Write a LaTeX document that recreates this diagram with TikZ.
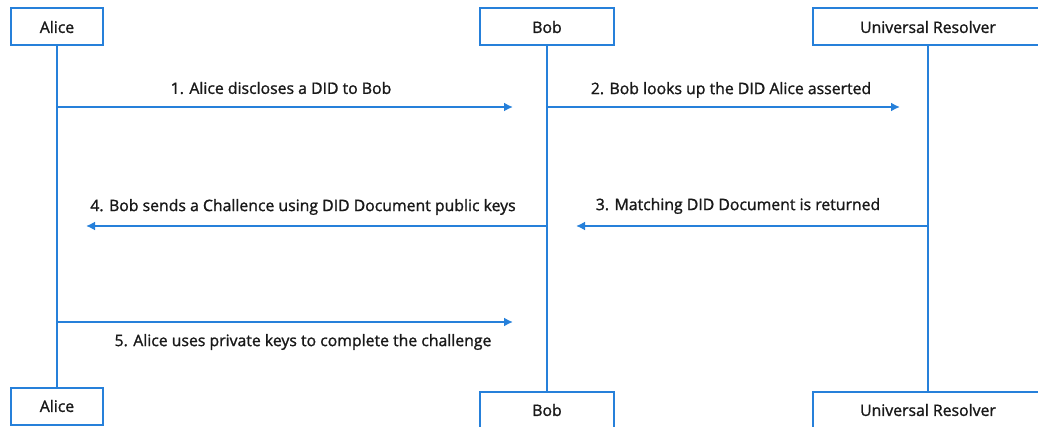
\documentclass[tikz,border=0pt]{standalone}
\usepackage{fontspec}
\setmainfont{Open Sans}
\newfontfamily\semib{Open Sans}[FakeBold=1.3]
\usetikzlibrary{arrows.meta}
\definecolor{lineblue}{RGB}{38,128,218}
\definecolor{txt}{RGB}{25,25,25}
\tikzset{
  actor/.style={draw=lineblue, line width=2pt, fill=white, text=txt, font=\semib\fontsize{15.8}{18}\selectfont, minimum height=37pt, inner sep=0pt},
  life/.style={draw=lineblue, line width=2pt},
  msg/.style={draw=lineblue, line width=2pt, -{Latex[length=9pt,width=9pt]}},
  lbl/.style={text=txt, font=\semib\fontsize{15.8}{18}\selectfont, inner sep=0pt}
}
\begin{document}
\begin{tikzpicture}[x=1pt,y=-1pt]
\useasboundingbox (0,0) rectangle (1038,427);
\clip (0,0) rectangle (1038,427);
% top actors
\node[actor, minimum width=92pt] (aliceT) at (57,27) {Alice};
\node[actor, minimum width=134pt] (bobT) at (547,27) {Bob};
\node[actor, minimum width=230pt] (urT) at (928,27) {Universal Resolver};
% bottom actors
\node[actor, minimum width=92pt] (aliceB) at (57,406) {Alice};
\node[actor, minimum width=134pt] (bobB) at (547,410) {Bob};
\node[actor, minimum width=230pt] (urB) at (928,410) {Universal Resolver};
% lifelines
\draw[life] (aliceT.south) -- (aliceB.north);
\draw[life] (bobT.south) -- (bobB.north);
\draw[life] (urT.south) -- (urB.north);
% message points
\coordinate (a1) at (57,107);
\coordinate (e1) at (513,107);
\coordinate (b2) at (547,107);
\coordinate (e2) at (900,107);
\coordinate (u3) at (928,226);
\coordinate (e3) at (576,226);
\coordinate (b4) at (547,226);
\coordinate (e4) at (86,226);
\coordinate (a5) at (57,322);
\coordinate (e5) at (513,322);
\draw[msg] (a1) -- (e1);
\draw[msg] (b2) -- (e2);
\draw[msg] (u3) -- (e3);
\draw[msg] (b4) -- (e4);
\draw[msg] (a5) -- (e5);
% labels
\node[lbl] (l1) at (281,88) {1. Alice discloses a DID to Bob};
\node[lbl] (l2) at (731,90) {2. Bob looks up the DID Alice asserted};
\node[lbl] (l3) at (738,206) {3. Matching DID Document is returned};
\node[lbl] (l4) at (303,207) {4. Bob sends a Challence using DID Document public keys};
\node[lbl] (l5) at (303,342) {5. Alice uses private keys to complete the challenge};
\end{tikzpicture}
\end{document}
